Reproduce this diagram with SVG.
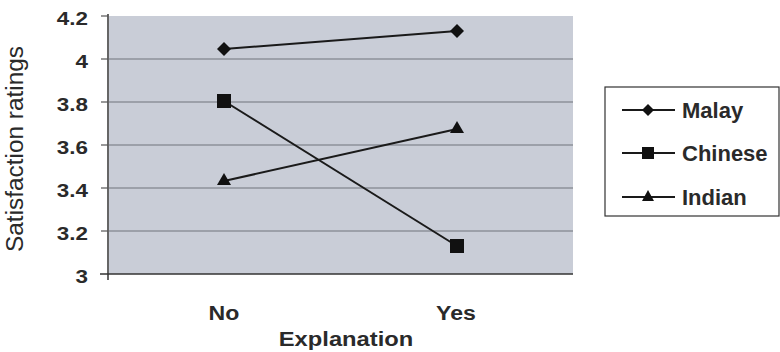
<svg xmlns="http://www.w3.org/2000/svg" width="780" height="352" viewBox="0 0 780 352">
<style>
.tick{font-family:"Liberation Sans",Arial,sans-serif;font-size:19px;font-weight:bold;fill:#2a2a2a;text-anchor:end}
.lbl{font-family:"Liberation Sans",Arial,sans-serif;font-size:21px;font-weight:bold;fill:#2a2a2a;text-anchor:middle}
.ttl{font-family:"Liberation Sans",Arial,sans-serif;font-size:23px;fill:#2a2a2a;text-anchor:middle}
.leg{font-family:"Liberation Sans",Arial,sans-serif;font-size:22px;font-weight:bold;fill:#2a2a2a}
.grid{stroke:#8c909a;stroke-width:1.5}
.ser{stroke:#1a1a1a;stroke-width:2;fill:none}
.mk{fill:#111}
</style>
<rect width="780" height="352" fill="#ffffff"/>
<g id="plot">
<rect x="109" y="16" width="464" height="258" fill="#c9cdd7"/>
<line class="grid" x1="109" y1="59" x2="573" y2="59"/>
<line class="grid" x1="109" y1="102" x2="573" y2="102"/>
<line class="grid" x1="109" y1="145" x2="573" y2="145"/>
<line class="grid" x1="109" y1="188" x2="573" y2="188"/>
<line class="grid" x1="109" y1="231" x2="573" y2="231"/>
<line x1="108" y1="14" x2="108" y2="280" stroke="#333" stroke-width="1.5"/>
<line x1="100" y1="274" x2="573" y2="274" stroke="#333" stroke-width="1.5"/>
<g stroke="#555" stroke-width="1.2">
<line x1="101" y1="16" x2="108" y2="16"/>
<line x1="101" y1="59" x2="108" y2="59"/>
<line x1="101" y1="102" x2="108" y2="102"/>
<line x1="101" y1="145" x2="108" y2="145"/>
<line x1="101" y1="188" x2="108" y2="188"/>
<line x1="101" y1="231" x2="108" y2="231"/>
</g>
</g>
<g id="yaxis-labels">
<g transform="translate(88,0) scale(1.18,1)">
<text class="tick" x="0" y="25">4.2</text>
<text class="tick" x="0" y="68">4</text>
<text class="tick" x="0" y="111">3.8</text>
<text class="tick" x="0" y="154">3.6</text>
<text class="tick" x="0" y="197">3.4</text>
<text class="tick" x="0" y="240">3.2</text>
<text class="tick" x="0" y="283">3</text>
</g>
<text class="ttl" transform="translate(23,149) rotate(-90) scale(1.06,1)">Satisfaction ratings</text>
</g>
<g id="xaxis-labels">
<text class="lbl" transform="translate(224,320) scale(1.1,1)">No</text>
<text class="lbl" transform="translate(456,320) scale(1.1,1)">Yes</text>
<text class="lbl" transform="translate(346,346) scale(1.13,1)">Explanation</text>
</g>
<g id="connectors">
<line class="ser" x1="224" y1="49" x2="457" y2="31"/>
<line class="ser" x1="224" y1="101" x2="457" y2="246"/>
<line class="ser" x1="224" y1="181" x2="457" y2="129"/>
</g>
<g id="malay">
<polygon class="mk" points="224,42 231,49 224,56 217,49"/>
<polygon class="mk" points="457,24 464,31 457,38 450,31"/>
</g>
<g id="chinese">
<rect class="mk" x="217" y="94" width="14" height="14"/>
<rect class="mk" x="450" y="239" width="14" height="14"/>
</g>
<g id="indian">
<polygon class="mk" points="224,173 231,185 217,185"/>
<polygon class="mk" points="457,121 464,133 450,133"/>
</g>
<g id="legend">
<rect x="605" y="87" width="174" height="129" fill="#fff" stroke="#333" stroke-width="1.2"/>
<line class="ser" x1="622" y1="110" x2="675" y2="110"/>
<polygon class="mk" points="648,104 654,110 648,116 642,110"/>
<text class="leg" x="682" y="118">Malay</text>
<line class="ser" x1="622" y1="153" x2="675" y2="153"/>
<rect class="mk" x="642" y="147" width="12" height="12"/>
<text class="leg" x="682" y="161">Chinese</text>
<line class="ser" x1="622" y1="197" x2="675" y2="197"/>
<polygon class="mk" points="648,190 654,201 642,201"/>
<text class="leg" x="682" y="205">Indian</text>
</g>
</svg>
